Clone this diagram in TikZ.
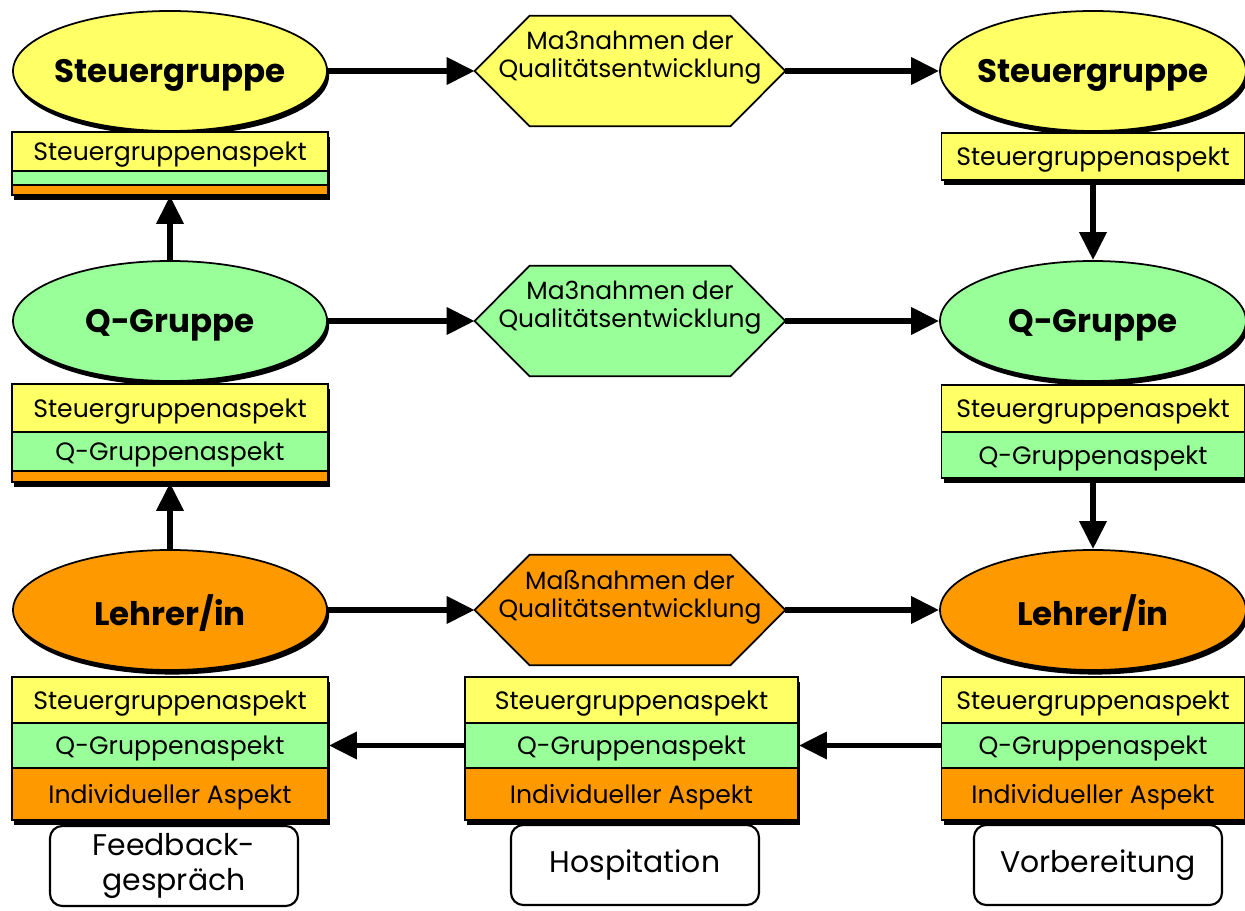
\documentclass[tikz,border=0pt]{standalone}
\usepackage{fontspec}
\setmainfont{Poppins}
\usetikzlibrary{arrows.meta,shadows,shapes.geometric}
\definecolor{yel}{RGB}{255,255,102}
\definecolor{grn}{RGB}{153,255,153}
\definecolor{org}{RGB}{255,153,0}
\newcommand{\pixu}{0.02cm}
\newcommand{\hexpath}[1]{(#1.west) -- ([xshift=1.1cm]#1.north west) -- ([xshift=-1.1cm]#1.north east) -- (#1.east) -- ([xshift=-1.1cm]#1.south east) -- ([xshift=1.1cm]#1.south west) -- cycle}
\tikzset{
  shd/.style={drop shadow={shadow xshift=1.2pt, shadow yshift=-2.6pt, fill=black, opacity=1}},
  ell/.style={ellipse, draw, line width=1pt, inner xsep=-20pt, inner ysep=0pt, minimum width=314*\pixu, minimum height=120*\pixu, text depth=0pt, font=\fontsize{18.5}{20}\selectfont\bfseries, shd},
  band/.style={rectangle, draw, line width=1pt, inner sep=0, text depth=0pt, font=\fontsize{14.3}{15}\selectfont, shd},
  hexbox/.style={rectangle, inner sep=0, minimum width=310*\pixu, minimum height=110*\pixu},
  hextext/.style={align=center, font=\fontsize{14.2}{16}\selectfont, inner sep=0},
  rbox/.style={rectangle, draw, rounded corners=7pt, line width=1.2pt, fill=white, align=center, minimum width=248*\pixu, minimum height=80*\pixu, font=\fontsize{17}{19.5}\selectfont, inner sep=0},
  arr/.style={line width=3.4pt, -{Triangle[length=16pt,width=15pt]}},
}
\begin{document}
\begin{tikzpicture}[x=0.02cm,y=-0.02cm]
\useasboundingbox (0,0) rectangle (1245,911);
% ---- left column
\node[ell, fill=yel] (LS) at (170,71) {Steuergruppe};
\node[band, fill=yel, minimum width=316*\pixu, minimum height=39*\pixu] (LSa) at (170,151.5) {Steuergruppenaspekt};
\node[band, fill=grn, minimum width=316*\pixu, minimum height=14*\pixu] (LSb) at (170,178) {};
\node[band, fill=org, minimum width=316*\pixu, minimum height=10*\pixu] (LSc) at (170,190) {};

\node[ell, fill=grn] (LQ) at (170,321) {Q-Gruppe};
\node[band, fill=yel, minimum width=316*\pixu, minimum height=48*\pixu] (LQa) at (170,408) {Steuergruppenaspekt};
\node[band, fill=grn, minimum width=316*\pixu, minimum height=39*\pixu] (LQb) at (170,451.5) {Q-Gruppenaspekt};
\node[band, fill=org, minimum width=316*\pixu, minimum height=11*\pixu] (LQc) at (170,476.5) {};

\node[ell, fill=org] (LL) at (170,610) {Lehrer/in};
\node[band, fill=yel, minimum width=316*\pixu, minimum height=46*\pixu] (LLa) at (170,700) {Steuergruppenaspekt};
\node[band, fill=grn, minimum width=316*\pixu, minimum height=45*\pixu] (LLb) at (170,745.5) {Q-Gruppenaspekt};
\node[band, fill=org, minimum width=316*\pixu, minimum height=52*\pixu] (LLc) at (170,794) {Individueller Aspekt};
\node[rbox] (FB) at (174,866) {Feedback-\\gespräch};

% ---- middle column
\node[hexbox] (H1) at (630,71) {};
\node[hexbox] (H2) at (630,321) {};
\node[hexbox] (H3) at (630,610) {};
\fill[black, shift={(2,4)}] \hexpath{H1};
\fill[black, shift={(2,4)}] \hexpath{H2};
\fill[black, shift={(2,4)}] \hexpath{H3};
\filldraw[fill=yel, line width=1pt] \hexpath{H1};
\filldraw[fill=grn, line width=1pt] \hexpath{H2};
\filldraw[fill=org, line width=1pt] \hexpath{H3};
\node[hextext] (H1t) at (630,58) {Ma3nahmen der\\Qualitätsentwicklung};
\node[hextext] (H2t) at (630,308) {Ma3nahmen der\\Qualitätsentwicklung};
\node[hextext] (H3t) at (630,597) {Maßnahmen der\\Qualitätsentwicklung};

\node[band, fill=yel, minimum width=333*\pixu, minimum height=46*\pixu] (MA) at (631.5,700) {Steuergruppenaspekt};
\node[band, fill=grn, minimum width=333*\pixu, minimum height=45*\pixu] (MB) at (631.5,745.5) {Q-Gruppenaspekt};
\node[band, fill=org, minimum width=333*\pixu, minimum height=52*\pixu] (MC) at (631.5,794) {Individueller Aspekt};
\node[rbox] (HO) at (635,865) {Hospitation};

% ---- right column
\node[ell, fill=yel, minimum width=306*\pixu] (RS) at (1093,71) {Steuergruppe};
\node[band, fill=yel, minimum width=303*\pixu, minimum height=47*\pixu] (RSa) at (1093,156.5) {Steuergruppenaspekt};

\node[ell, fill=grn, minimum width=306*\pixu] (RQ) at (1093,321) {Q-Gruppe};
\node[band, fill=yel, minimum width=303*\pixu, minimum height=47*\pixu] (RQa) at (1093,408.5) {Steuergruppenaspekt};
\node[band, fill=grn, minimum width=303*\pixu, minimum height=46*\pixu] (RQb) at (1093,455) {Q-Gruppenaspekt};

\node[ell, fill=org, minimum width=306*\pixu] (RL) at (1093,610) {Lehrer/in};
\node[band, fill=yel, minimum width=303*\pixu, minimum height=46*\pixu] (RLa) at (1093,700) {Steuergruppenaspekt};
\node[band, fill=grn, minimum width=303*\pixu, minimum height=45*\pixu] (RLb) at (1093,745.5) {Q-Gruppenaspekt};
\node[band, fill=org, minimum width=303*\pixu, minimum height=52*\pixu] (RLc) at (1093,794) {Individueller Aspekt};
\node[rbox] (VB) at (1098,865) {Vorbereitung};

% ---- connectors
\draw[arr] (LS.east) -- (H1.west);
\draw[arr] (H1.east) -- (RS.west);
\draw[arr] (LQ.east) -- (H2.west);
\draw[arr] (H2.east) -- (RQ.west);
\draw[arr] (LL.east) -- (H3.west);
\draw[arr] (H3.east) -- (RL.west);
\draw[arr] (LQ.north) -- (LSc.south);
\draw[arr] (LL.north) -- (LQc.south);
\draw[arr] (RSa.south) -- (RQ.north);
\draw[arr] (RQb.south) -- (RL.north);
\draw[arr] (RLb.west) -- (MB.east);
\draw[arr] (MB.west) -- (LLb.east);
\end{tikzpicture}
\end{document}
